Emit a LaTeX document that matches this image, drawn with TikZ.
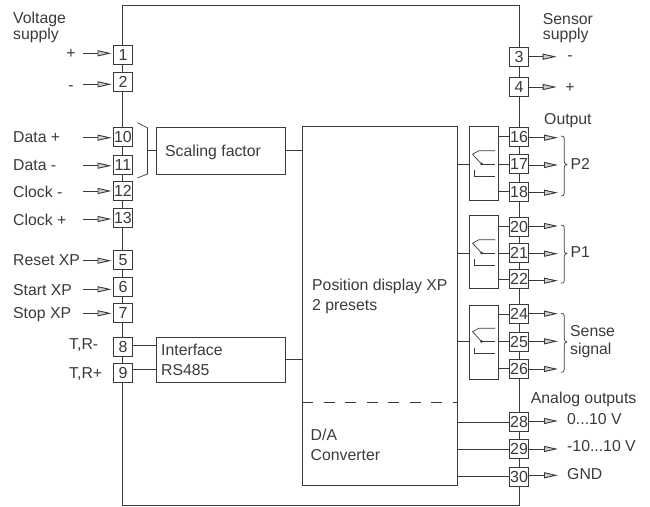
\documentclass[tikz,border=0pt]{standalone}
\usepackage{fontspec}
\setmainfont{Liberation Sans}
\usetikzlibrary{arrows.meta,calc}
\definecolor{ink}{HTML}{3A3A3A}
\tikzset{
  wire/.style={draw=ink,line width=.9pt},
  termbox/.style={draw=ink,line width=.9pt,fill=white,minimum width=19pt,minimum height=19pt,inner sep=0pt,text=ink,font=\fontsize{16}{16}\selectfont},
  block/.style={draw=ink,line width=.9pt,inner sep=0pt},
  txt/.style={anchor=base west,inner sep=0pt,text=ink,font=\fontsize{15.8}{16}\selectfont},
  sym/.style={anchor=base,inner sep=0pt,text=ink,font=\fontsize{15.8}{16}\selectfont},
  sig/.style={wire,-{Triangle[length=14pt,width=6pt,line width=.9pt,fill=ink!25]}},
  fine/.style={draw=ink,line width=.7pt}
}
\newcommand{\leftin}[3]{%
  \node[termbox] (t#1) at (123,#2) {#1};
  \coordinate (a#1) at (83,#3);
  \draw[sig] (a#1) -- ([xshift=-1.5pt]t#1.west |- a#1);}
\newcommand{\rightout}[4]{%
  \node[termbox] (t#1) at (519,#2) {#1};
  \coordinate (a#1) at (#4,#3);
  \draw[sig] (t#1.east |- a#1) -- (a#1);}
\newcommand{\relay}[6]{%
  \node[block,minimum width=29pt,minimum height=#3pt-#2pt] (#1) at (484.2,{(#2+#3)/2}) {};
  \draw[wire] (#1.east |- t#4) -- (t#4.west);
  \draw[wire] (#1.east |- t#6) -- (t#6.west);
  \draw[wire] (core.east |- t#5) -- (#1.west |- t#5);
  \draw[wire] (#1.east |- t#5) -- (t#5.west);
  \path (t#5.center) coordinate (m#1);
  \draw[fine] (495,0 |- m#1) ++(0,-13.3) -- ++(-16,0) -- ++(-6.5,3.5) -- (481.5,0 |- m#1);
  \draw[fine] (481.5,0 |- m#1) -- (495,0 |- m#1);
  \fill[ink] (481.5,0 |- m#1) circle (1.5pt);
  \draw[fine] (474.7,0 |- m#1) ++(0,6.3) -- ++(0,5.7) -- ++(20.3,0);}
\newcommand{\curly}[3]{%
  \draw[fine] (561,#1) .. controls (563.5,#1) and (564.3,#1+.7) .. (564.3,#1+3) -- (564.3,#3-3)
    .. controls (564.3,#3-1) and (565,#3-.5) .. (566.8,#3)
    .. controls (565,#3+.5) and (564.3,#3+1) .. (564.3,#3+3) -- (564.3,#2-3)
    .. controls (564.3,#2-.7) and (563.5,#2) .. (561,#2);}
\begin{document}
\begin{tikzpicture}[x=1pt,y=-1pt]
\useasboundingbox (0,0) rectangle (650,506);
\node[block,minimum width=396.5pt,minimum height=499.5pt] (frame) at (320.75,255.25) {};
\node[block,minimum width=155.7pt,minimum height=359pt] (core) at (379.85,306.2) {};
\node[block,minimum width=129pt,minimum height=46.3pt] (scale) at (220.5,150.85) {};
\node[block,minimum width=129pt,minimum height=45.3pt] (iface) at (220.5,359.65) {};

\leftin{1}{54.5}{53.3}
\leftin{2}{82.2}{84.3}
\leftin{10}{137.3}{137.7}
\leftin{11}{165}{165.7}
\leftin{12}{191.3}{191}
\leftin{13}{218.2}{219}
\leftin{5}{259.8}{260.7}
\leftin{6}{287.3}{289.3}
\leftin{7}{313.3}{313.3}
\node[termbox] (t8) at (123,346.7) {8};
\node[termbox] (t9) at (123,372.7) {9};

\rightout{3}{57}{56.7}{556.7}
\rightout{4}{86.8}{87}{556.7}
\rightout{16}{136.8}{137.7}{558}
\rightout{17}{164}{165}{558}
\rightout{18}{191.8}{192.7}{558}
\rightout{20}{226.5}{226}{558}
\rightout{21}{253}{253.7}{558}
\rightout{22}{279.2}{280.7}{558}
\rightout{24}{314.2}{313.7}{558}
\rightout{25}{341.5}{341.3}{558}
\rightout{26}{368.7}{369}{558}
\rightout{28}{422.2}{421}{558}
\rightout{29}{449.3}{449}{558}
\rightout{30}{476.5}{475.3}{558}

\draw[wire] (scale.east) -- (scale.east -| core.west);
\draw[wire] (iface.east) -- (iface.east -| core.west);
\coordinate (i8) at (133,345.7);
\coordinate (i9) at (133,369.7);
\draw[wire] (i8) -- (i8 -| iface.west);
\draw[wire] (i9) -- (i9 -| iface.west);

\coordinate (b1) at (137.3,122.7);
\coordinate (b2) at (147.5,128);
\coordinate (b3) at (147.5,174);
\coordinate (b4) at (137.3,178);
\draw[fine] (b1) -- (b2) -- (b3) -- (b4);
\draw[wire] (b2 |- scale.west) -- (scale.west);

\draw[wire,dash pattern=on 11pt off 10.5pt] (302,402.7) coordinate (d1) -- (457.7,402.7) coordinate (d2);

\draw[wire] (t28.west) -- (core.east |- t28);
\draw[wire] (t29.west) -- (core.east |- t29);
\draw[wire] (t30.west) -- (core.east |- t30);

\relay{ra}{126.7}{200.7}{16}{17}{18}
\relay{rb}{215}{288.3}{20}{21}{22}
\relay{rc}{305.7}{379}{24}{25}{26}

\curly{136}{196}{164.5}
\curly{225}{283.3}{253.5}
\curly{313.3}{372.3}{342}

\node[txt] (lv1) at (13,23.5) {Voltage};
\node[txt] (lv2) at (13,39) {supply};
\node[sym] (lp) at (71,58) {+};
\node[sym] (lm) at (71,90) {-};
\node[txt] (ld1) at (13,142.7) {Data +};
\node[txt] (ld2) at (13,170.7) {Data -};
\node[txt] (lc1) at (13,197) {Clock -};
\node[txt] (lc2) at (13,225) {Clock +};
\node[txt] (lr) at (13,265) {Reset XP};
\node[txt] (ls1) at (13,295) {Start XP};
\node[txt] (ls2) at (13,318.3) {Stop XP};
\node[txt] (lt1) at (69,349) {T,R-};
\node[txt] (lt2) at (69,378.3) {T,R+};
\node[txt] (lsf) at (165,156) {Scaling factor};
\node[txt] (li1) at (161,355.7) {Interface};
\node[txt] (li2) at (161,375.7) {RS485};
\node[txt] (lx1) at (312,290) {Position display XP};
\node[txt] (lx2) at (312,310) {2 presets};
\node[txt] (lda1) at (310.5,440.7) {D/A};
\node[txt] (lda2) at (310.5,460) {Converter};
\node[txt] (lss1) at (542.7,24) {Sensor};
\node[txt] (lss2) at (542.7,39) {supply};
\node[sym] (lrm) at (570,60) {-};
\node[sym] (lrp) at (570,92) {+};
\node[txt] (lo) at (544,124) {Output};
\node[txt] (lp2) at (570.5,169) {P2};
\node[txt] (lp1) at (570.5,257.5) {P1};
\node[txt] (lse1) at (570,336) {Sense};
\node[txt] (lse2) at (570,354) {signal};
\node[txt] (lan) at (530.7,403.3) {Analog outputs};
\node[txt] (lv10) at (567,424.7) {0...10 V};
\node[txt] (lv11) at (567,451.7) {-10...10 V};
\node[txt] (lg) at (567,479.3) {GND};
\end{tikzpicture}
\end{document}
